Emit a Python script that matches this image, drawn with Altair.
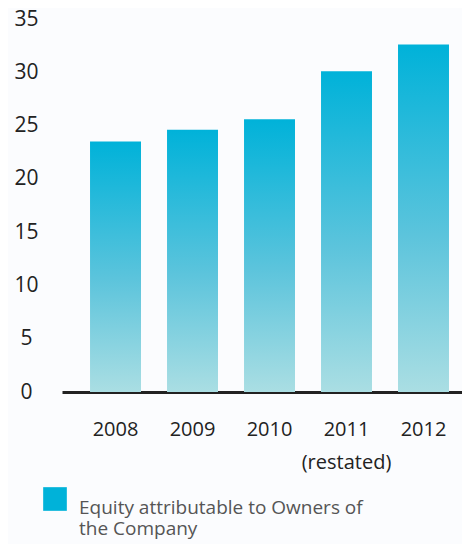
import altair as alt
import pandas as pd

years = ["2008", "2009", "2010", "2011\n(restated)", "2012"]
values = [23.5, 24.6, 25.6, 30.1, 32.6]
series = ["Equity attributable to Owners of\nthe Company"] * 5
y_ticks = [0, 5, 10, 15, 20, 25, 30, 35]

df = pd.DataFrame({"year": years, "value": values, "series": series})

gradient = alt.Gradient(
    gradient="linear",
    stops=[
        alt.GradientStop(color="#00b2d9", offset=0),
        alt.GradientStop(color="#5cc4dc", offset=0.55),
        alt.GradientStop(color="#aadee3", offset=1),
    ],
    x1=0, x2=0, y1=0, y2=1,
)

chart = (
    alt.Chart(df)
    .mark_bar(fill=gradient)
    .encode(
        x=alt.X(
            "year:N",
            sort=years,
            title=None,
            scale=alt.Scale(paddingInner=0.338, paddingOuter=0.2665, align=0.683),
            axis=alt.Axis(
                labelExpr="split(datum.label, '\\n')",
                labelAngle=0,
                labelFont="Open Sans",
                labelFontSize=20,
                labelColor="#222222",
                labelPadding=27,
                labelLineHeight=33,
                labelBaseline="top",
                ticks=False,
                domain=True,
                domainColor="#222222",
                domainWidth=3,
            ),
        ),
        y=alt.Y(
            "value:Q",
            title=None,
            scale=alt.Scale(domain=[0, 35], nice=False),
            axis=alt.Axis(
                values=y_ticks,
                grid=False,
                domain=False,
                ticks=False,
                labelAlign="center",
                labelPadding=36,
                labelFont="Open Sans",
                labelFontSize=21,
                labelColor="#222222",
            ),
        ),
        color=alt.Color(
            "series:N",
            scale=alt.Scale(range=["#00b2d9"]),
            legend=alt.Legend(
                title=None,
                orient="none",
                legendX=-19,
                legendY=468,
                symbolType="square",
                symbolSize=560,
                symbolStrokeWidth=0,
                symbolOpacity=1,
                labelFont="Open Sans",
                labelFontSize=19,
                labelColor="#555555",
                labelExpr="split(datum.label, '\\n')",
                labelBaseline="top",
                labelOffset=12,
                labelLimit=400,
            ),
        ),
    )
    .properties(
        width=400,
        height=373,
        background="#fbfcfe",
        padding={"left": 54, "top": 11, "right": 0, "bottom": 152},
        autosize=alt.AutoSizeParams(type="none"),
    )
    .configure_view(stroke=None)
)

chart.save("out.html", embed_options={"renderer": "svg", "actions": False})
